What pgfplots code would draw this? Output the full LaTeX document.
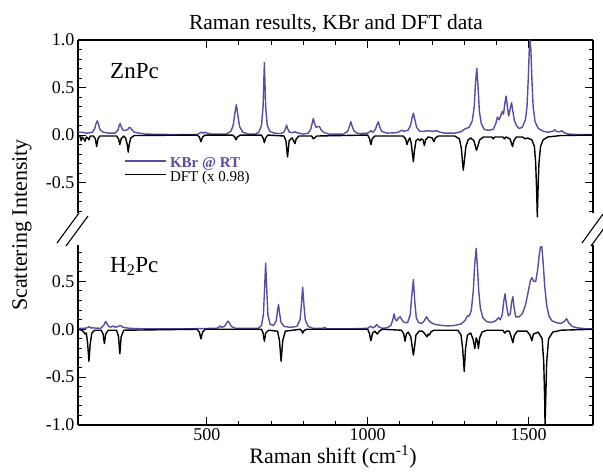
\documentclass[border=0pt]{standalone}
\usepackage{fontspec}
\setmainfont{Liberation Serif}
\usepackage{pgfplots}
\pgfplotsset{compat=1.18}

\definecolor{kbr}{RGB}{92,74,164}

\pgfplotsset{
  raman/.style={
    scale only axis, width=515pt,
    xmin=100, xmax=1700,
    xtick={500,1000,1500}, minor x tick num=4,
    ytick={-1,-0.5,0,0.5,1}, minor y tick num=4,
    tick align=inside,
    major tick length=8pt, minor tick length=4.5pt,
    every tick/.style={black, line width=1pt},
    axis line style={line width=1.3pt},
    yticklabel pos=left,
    tick label style={font=\rmfamily\fontsize{18}{18}\selectfont},
    /pgf/number format/assume math mode=true,
    yticklabel style={/pgf/number format/.cd, fixed, fixed zerofill, precision=1},
    xticklabel style={/pgf/number format/.cd, fixed, 1000 sep={}},
    clip=false,
  },
  kbrline/.style={color=kbr, line width=1.4pt, line join=round},
  dftline/.style={black, line width=1.4pt, line join=round},
}

\begin{document}
\begin{tikzpicture}
\useasboundingbox (0pt,0pt) rectangle (603pt,-474pt);

% ZnPc panel
\begin{axis}[raman, at={(78pt,-213pt)}, anchor=south west, height=173pt,
  ymin=-0.82, ymax=1.0,
  axis x line*=top, axis y line*=box, xticklabels={},
  legend style={at={(0.09,0.242)}, anchor=west, draw=none, fill=none,
    inner sep=0pt, row sep=0.5pt, font=\rmfamily\fontsize{15}{15}\selectfont,
    nodes={inner sep=0pt, text height=10pt, text depth=3pt},
    /tikz/every odd column/.append style={column sep=3pt}},
  legend cell align=left,
  legend image code/.code={\draw[#1, line width=1.5pt] (0pt,3.5pt) -- (41pt,3.5pt);},
]
\addplot[kbrline] coordinates {
(100,0.03) (110,0.03) (130,0.02) (145,0.03) (152,0.07) (156,0.12) (160,0.15) (164,0.11) (168,0.06) (178,0.03) (195,0.02) (215,0.02)
(224,0.05) (228,0.10) (231,0.12) (234,0.09) (240,0.05) (248,0.05) (255,0.06) (259,0.08) (262,0.08) (266,0.06) (275,0.03) (290,0.02)
(310,0.01) (400,0.005) (470,0.005) (478,0.02) (482,0.03) (488,0.02) (496,0.03) (502,0.02) (515,0.01) (560,0.01) (575,0.04) (582,0.1)
(587,0.22) (592,0.32) (597,0.2) (602,0.09) (612,0.03) (630,0.01) (650,0.01) (662,0.03) (670,0.1) (675,0.3) (679,0.765) (683,0.3)
(688,0.1) (696,0.04) (710,0.02) (730,0.015) (740,0.03) (745,0.07) (748,0.105) (751,0.07) (757,0.03) (766,0.025) (774,0.035) (780,0.025)
(800,0.01) (815,0.02) (823,0.06) (828,0.13) (831,0.175) (835,0.12) (840,0.08) (846,0.09) (850,0.09) (856,0.05) (865,0.025) (880,0.01)
(925,0.01) (938,0.04) (944,0.1) (948,0.14) (952,0.09) (958,0.04) (970,0.015) (1000,0.02) (1010,0.045) (1017,0.03) (1024,0.06)
(1029,0.11) (1033,0.14) (1037,0.09) (1043,0.04) (1060,0.02) (1090,0.025) (1100,0.04) (1106,0.05) (1112,0.04) (1125,0.05) (1133,0.1)
(1138,0.18) (1142,0.23) (1146,0.17) (1152,0.08) (1162,0.04) (1175,0.04) (1185,0.045) (1200,0.04) (1215,0.045) (1225,0.03) (1240,0.02)
(1270,0.02) (1290,0.035) (1300,0.06) (1306,0.07) (1315,0.08) (1325,0.15) (1331,0.3) (1335,0.55) (1339,0.70) (1343,0.5) (1347,0.25)
(1353,0.12) (1362,0.06) (1375,0.05) (1390,0.06) (1398,0.12) (1403,0.19) (1408,0.16) (1413,0.2) (1418,0.25) (1422,0.22) (1426,0.33)
(1430,0.41) (1434,0.3) (1438,0.2) (1443,0.28) (1447,0.34) (1451,0.25) (1456,0.15) (1462,0.1) (1470,0.07) (1480,0.08) (1490,0.16)
(1495,0.3) (1499,0.6) (1502,0.9) (1504,1.0) (1507,0.9) (1510,0.6) (1514,0.3) (1520,0.14) (1530,0.07) (1545,0.04) (1560,0.03)
(1575,0.04) (1582,0.055) (1588,0.035) (1596,0.035) (1603,0.045) (1610,0.025) (1625,0.01) (1650,0.005) (1700,0.005)
};
\addlegendentry{\textcolor{kbr}{\bfseries KBr @ RT}}
\addplot[dftline] coordinates {
(100,0) (106,-0.01) (110,-0.06) (113,-0.02) (118,-0.04) (122,-0.065) (126,-0.02) (130,-0.03) (134,-0.05) (138,-0.01) (148,-0.01)
(154,-0.04) (158,-0.12) (162,-0.04) (168,-0.01) (220,-0.01) (226,-0.04) (230,-0.10) (234,-0.04) (242,-0.01) (248,-0.03) (253,-0.1)
(256,-0.18) (259,-0.1) (264,-0.03) (275,-0.005) (470,0) (477,-0.02) (482,-0.07) (487,-0.02) (495,0) (580,0) (587,-0.02) (591,-0.05)
(595,-0.02) (605,0) (670,0) (675,-0.03) (679,-0.08) (683,-0.03) (690,0) (740,-0.01) (746,-0.06) (751,-0.23) (756,-0.06) (765,-0.03)
(770,-0.06) (774,-0.09) (778,-0.04) (786,-0.01) (826,-0.01) (831,-0.04) (835,-0.03) (842,-0.01) (1000,0) (1006,-0.04) (1010,-0.1)
(1014,-0.04) (1022,-0.01) (1110,-0.01) (1118,-0.04) (1122,-0.1) (1126,-0.06) (1131,-0.03) (1135,-0.08) (1139,-0.2) (1142,-0.28)
(1145,-0.17) (1150,-0.06) (1156,-0.04) (1162,-0.06) (1166,-0.04) (1172,-0.05) (1176,-0.11) (1180,-0.05) (1188,-0.02) (1200,-0.03)
(1206,-0.07) (1210,-0.03) (1220,-0.01) (1270,-0.01) (1285,-0.04) (1291,-0.14) (1295,-0.3) (1297,-0.37) (1300,-0.28) (1305,-0.12)
(1312,-0.05) (1320,-0.03) (1330,-0.06) (1334,-0.11) (1338,-0.16) (1342,-0.12) (1348,-0.05) (1360,-0.02) (1385,-0.02) (1390,-0.04)
(1395,-0.02) (1420,-0.02) (1425,-0.04) (1430,-0.02) (1442,-0.04) (1447,-0.09) (1450,-0.12) (1454,-0.06) (1462,-0.02) (1480,-0.02)
(1490,-0.04) (1496,-0.03) (1510,-0.05) (1518,-0.12) (1522,-0.3) (1525,-0.6) (1527,-0.86) (1529,-0.6) (1532,-0.3) (1537,-0.12)
(1545,-0.05) (1560,-0.02) (1600,-0.005) (1700,0)
};
\addlegendentry{DFT (x 0.98)}
\end{axis}

% H2Pc panel
\begin{axis}[raman, at={(78pt,-425pt)}, anchor=south west, height=180pt,
  ymin=-1.0, ymax=0.88,
  axis x line*=bottom, axis y line*=box,
]
\addplot[kbrline] coordinates {
(100,0.01) (120,0.01) (128,0.015) (134,0.025) (140,0.015) (170,0.01) (180,0.04) (184,0.07) (187,0.08) (191,0.05) (198,0.025)
(204,0.025) (210,0.035) (216,0.02) (225,0.03) (230,0.04) (234,0.035) (240,0.02) (260,0.01) (300,0.005) (450,0.005) (530,0.01)
(537,0.02) (541,0.035) (546,0.02) (555,0.03) (561,0.06) (566,0.085) (570,0.07) (576,0.03) (590,0.01) (660,0.01) (670,0.04)
(676,0.15) (680,0.45) (683,0.69) (686,0.45) (690,0.15) (697,0.05) (708,0.04) (716,0.09) (720,0.2) (723,0.26) (726,0.17) (731,0.07)
(740,0.03) (760,0.02) (780,0.03) (790,0.1) (794,0.25) (798,0.44) (802,0.25) (806,0.1) (815,0.03) (830,0.01) (860,0.01) (866,0.02)
(872,0.005) (950,0.005) (1000,0.01) (1006,0.025) (1010,0.03) (1016,0.015) (1022,0.025) (1028,0.05) (1034,0.025) (1045,0.01)
(1060,0.015) (1072,0.04) (1078,0.1) (1082,0.16) (1086,0.1) (1091,0.09) (1096,0.12) (1101,0.13) (1106,0.1) (1110,0.08) (1116,0.07)
(1124,0.07) (1132,0.15) (1137,0.35) (1142,0.52) (1146,0.3) (1151,0.12) (1158,0.07) (1168,0.06) (1176,0.09) (1183,0.13) (1188,0.1)
(1196,0.07) (1210,0.05) (1230,0.04) (1250,0.035) (1270,0.04) (1290,0.055) (1302,0.09) (1310,0.14) (1316,0.14) (1322,0.2) (1328,0.4)
(1332,0.65) (1337,0.845) (1341,0.65) (1345,0.4) (1350,0.22) (1358,0.12) (1370,0.08) (1385,0.07) (1398,0.09) (1406,0.12) (1412,0.1)
(1418,0.15) (1423,0.3) (1427,0.37) (1431,0.25) (1437,0.14) (1443,0.16) (1447,0.28) (1451,0.34) (1455,0.22) (1460,0.13) (1470,0.13)
(1480,0.16) (1490,0.25) (1498,0.38) (1505,0.5) (1510,0.54) (1516,0.5) (1522,0.5) (1528,0.62) (1533,0.78) (1537,0.86) (1541,0.86)
(1545,0.7) (1550,0.45) (1556,0.25) (1563,0.14) (1572,0.09) (1585,0.07) (1600,0.06) (1610,0.08) (1618,0.11) (1624,0.07) (1635,0.03)
(1650,0.015) (1680,0.005) (1700,0.005)
};
\addplot[dftline] coordinates {
(100,0) (112,-0.01) (118,-0.03) (122,-0.05) (126,-0.04) (130,-0.15) (134,-0.335) (138,-0.15) (143,-0.04) (152,-0.01) (172,-0.01)
(178,-0.05) (182,-0.15) (186,-0.05) (194,-0.01) (220,-0.01) (226,-0.08) (230,-0.255) (234,-0.08) (242,-0.01) (470,0) (477,-0.03)
(482,-0.1) (487,-0.03) (495,0) (670,0) (675,-0.04) (679,-0.125) (683,-0.04) (692,-0.01) (720,-0.02) (726,-0.12) (731,-0.335)
(736,-0.12) (744,-0.02) (790,0) (795,-0.015) (798,-0.04) (802,-0.015) (810,0) (1000,0) (1005,-0.04) (1010,-0.12) (1015,-0.04)
(1022,-0.02) (1030,-0.05) (1036,-0.02) (1045,0) (1105,-0.01) (1112,-0.05) (1116,-0.125) (1120,-0.05) (1126,-0.03) (1134,-0.08)
(1139,-0.2) (1142,-0.27) (1145,-0.2) (1150,-0.06) (1160,-0.02) (1170,-0.02) (1178,-0.05) (1184,-0.08) (1188,-0.05) (1192,-0.06)
(1196,-0.03) (1205,-0.01) (1280,-0.01) (1290,-0.06) (1295,-0.2) (1300,-0.44) (1304,-0.2) (1310,-0.06) (1320,-0.04) (1327,-0.1)
(1333,-0.2) (1337,-0.09) (1341,-0.12) (1344,-0.2) (1348,-0.09) (1355,-0.03) (1370,-0.01) (1420,-0.01) (1426,-0.04) (1431,-0.02)
(1440,-0.02) (1446,-0.08) (1451,-0.14) (1456,-0.06) (1465,-0.02) (1495,-0.02) (1504,-0.06) (1510,-0.12) (1515,-0.05) (1530,-0.03)
(1542,-0.1) (1547,-0.35) (1550,-0.75) (1551,-1.0) (1553,-0.75) (1556,-0.35) (1562,-0.1) (1575,-0.03) (1600,-0.01) (1700,0)
};
\end{axis}

% titles, labels and axis-break marks
\node[anchor=base, font=\rmfamily\fontsize{21.5}{21.5}\selectfont] at (336pt,-29pt) {Raman results, KBr and DFT data};
\node[anchor=base, font=\rmfamily\fontsize{22}{22}\selectfont] at (333pt,-463pt) {Raman shift (cm\textsuperscript{-1})};
\node[anchor=base, rotate=90, font=\rmfamily\fontsize{22}{22}\selectfont] at (27pt,-225pt) {Scattering Intensity};
\node[anchor=base west, inner sep=0pt, font=\rmfamily\fontsize{23}{23}\selectfont] at (110pt,-78pt) {ZnPc};
\node[anchor=base west, inner sep=0pt, font=\rmfamily\fontsize{23}{23}\selectfont] at (110pt,-272pt) {H\textsubscript{2}Pc};
\begin{scope}[line width=1.1pt]
\draw (57pt,-243pt) -- (79pt,-213pt);
\draw (66pt,-246pt) -- (88pt,-216pt);
\draw (582pt,-243pt) -- (603pt,-214pt);
\draw (591pt,-246pt) -- (610pt,-220pt);
\end{scope}
\end{tikzpicture}
\end{document}
